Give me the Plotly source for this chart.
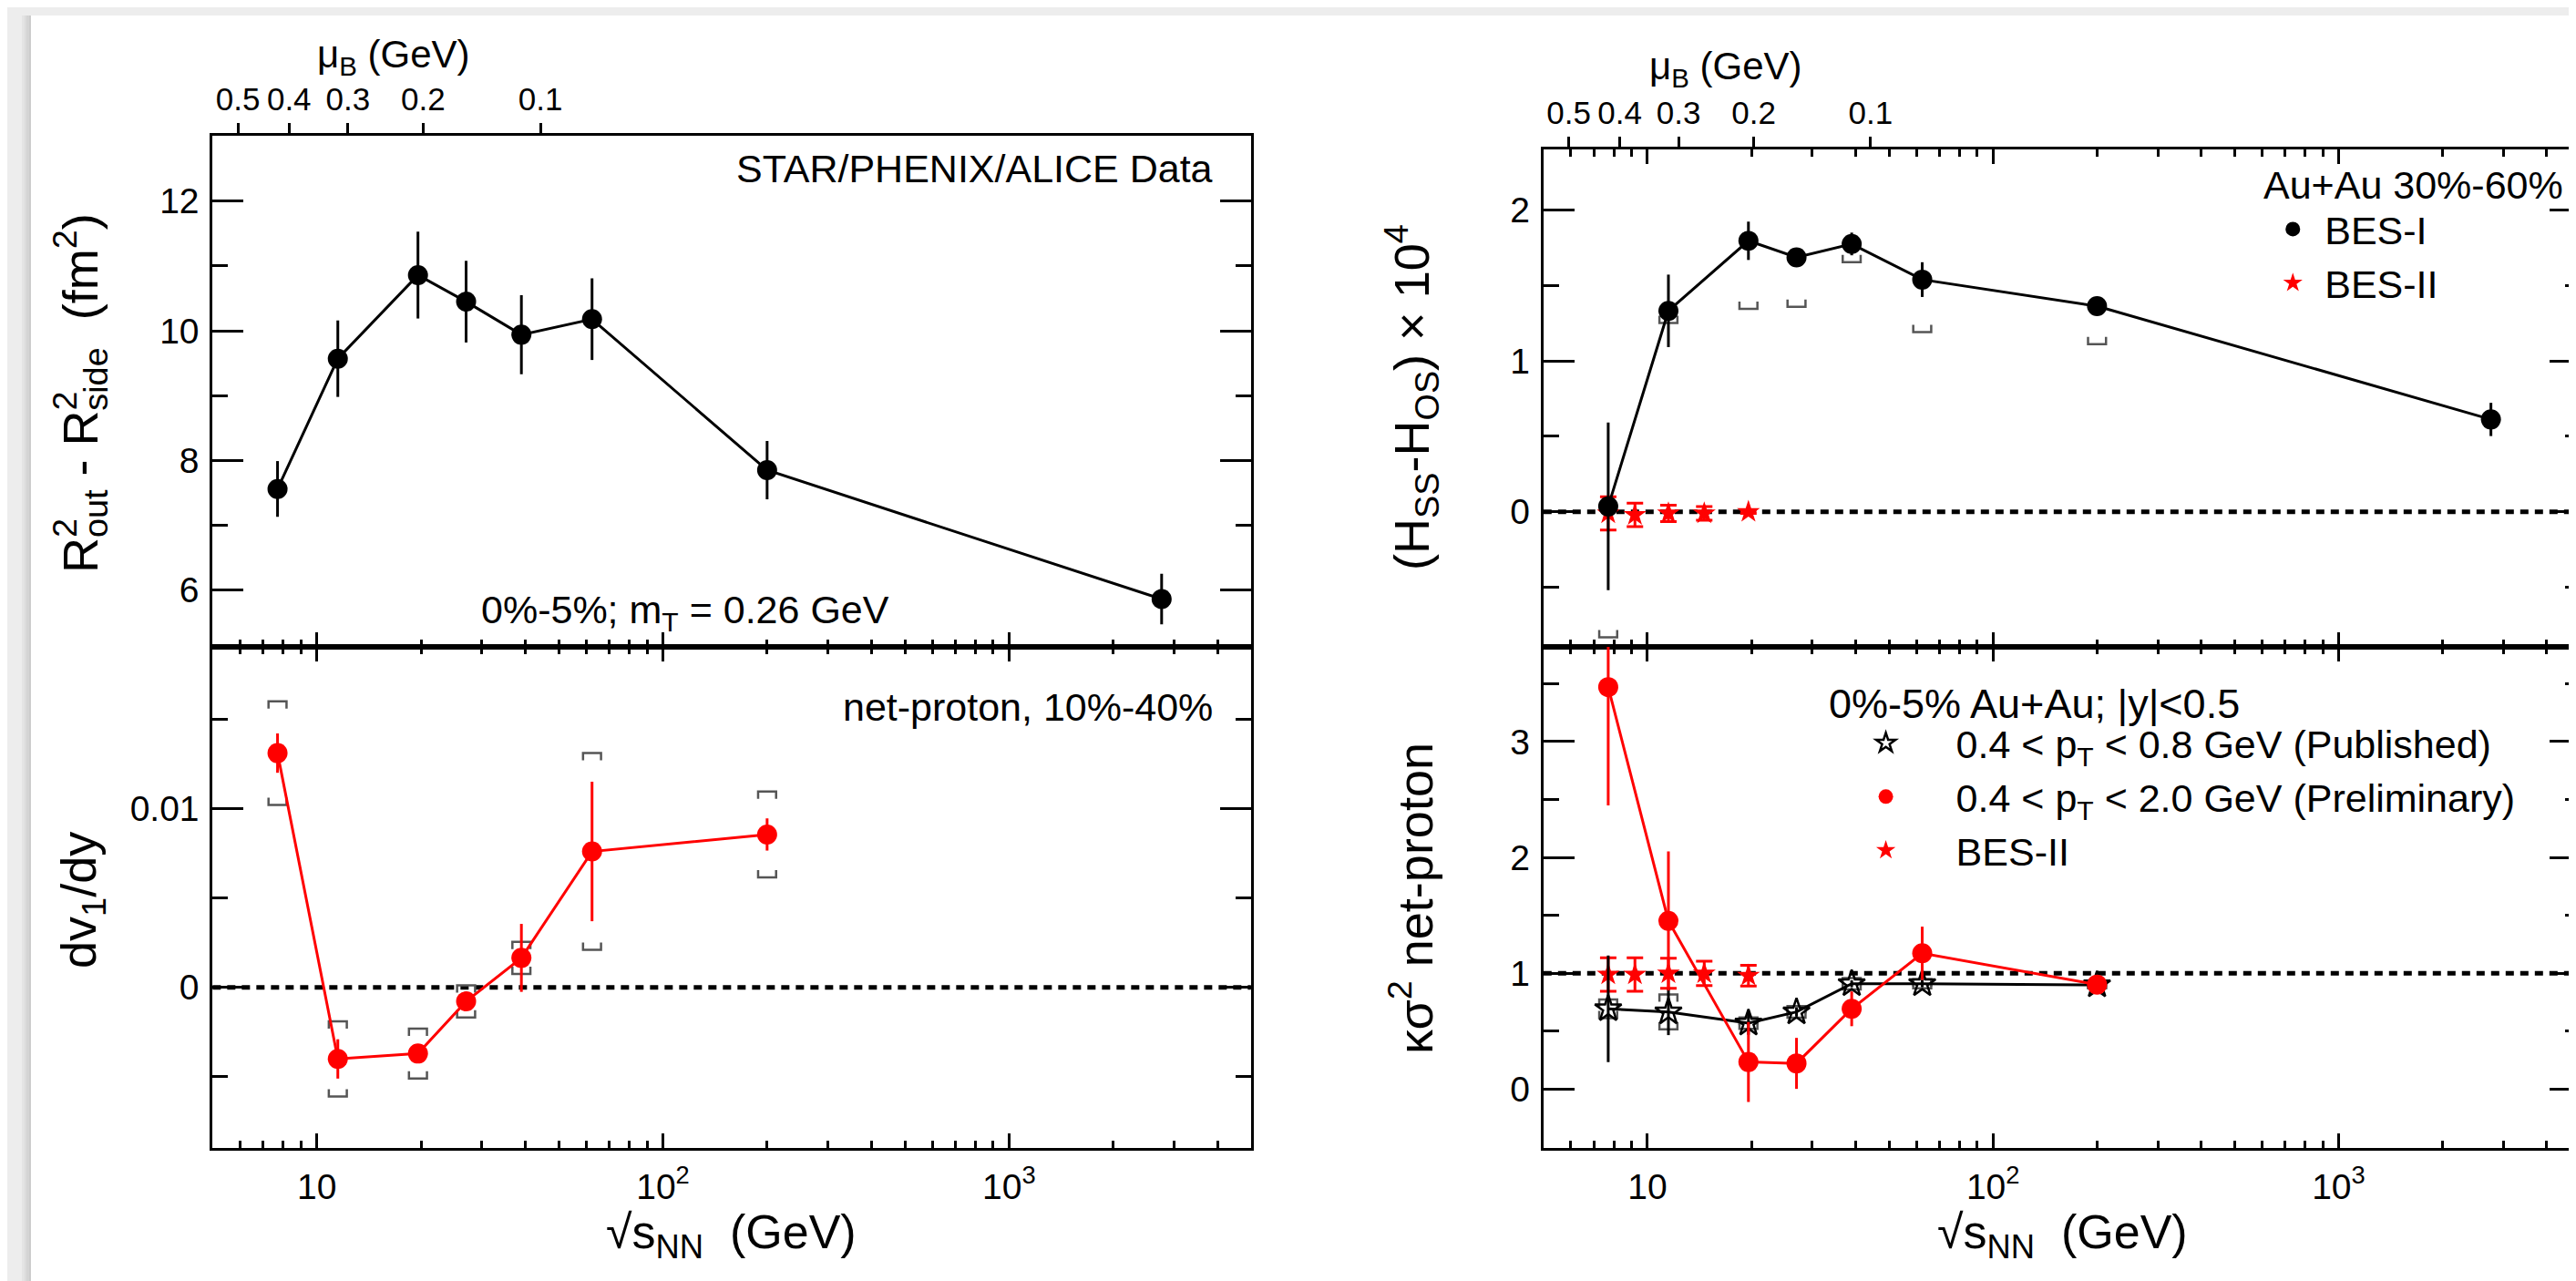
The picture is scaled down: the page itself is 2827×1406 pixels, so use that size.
import numpy as np
import plotly.graph_objects as go

# ---------------- data ----------------
# HBT: R_out^2 - R_side^2, 0-5%
e_hbt = [7.7, 11.5, 19.6, 27, 39, 62.4, 200, 2760]
hbt = [7.56, 9.57, 10.86, 10.45, 9.94, 10.18, 7.85, 5.86]
hbt_err = [0.43, 0.59, 0.67, 0.63, 0.61, 0.63, 0.45, 0.39]

# net-proton dv1/dy, 10-40%
e_dv1 = [7.7, 11.5, 19.6, 27, 39, 62.4, 200]
dv1 = [0.0131, -0.0040, -0.0037, -0.00078, 0.00165, 0.0076, 0.00855]
dv1_err = [0.0011, 0.0011, 0.0004, 0.0004, 0.0019, 0.0039, 0.0009]
dv1_sys = [0.0029, 0.0021, 0.0014, 0.0009, 0.0009, 0.0055, 0.0024]

# (H_SS - H_OS) x 10^4, 30-60%
e_bes1 = [7.7, 11.5, 19.6, 27, 39, 62.4, 200, 2760]
h_bes1 = [0.036, 1.331, 1.795, 1.685, 1.774, 1.538, 1.362, 0.612]
h_bes1_err = [0.555, 0.24, 0.127, 0.04, 0.075, 0.115, 0.05, 0.11]
h_bes1_sys_low = [0.866, 0.081, 0.451, 0.327, 0.121, 0.348, 0.252, None]
e_bes2 = [7.7, 9.2, 11.5, 14.6, 19.6]
h_bes2 = [-0.01, -0.02, -0.01, -0.01, 0.0]
h_bes2_err = [0.11, 0.077, 0.054, 0.045, 0.01]

# kappa sigma^2 net-proton, 0-5%
e_kap = [7.7, 11.5, 19.6, 27, 39, 62.4, 200]
kap_prelim = [3.47, 1.452, 0.235, 0.223, 0.694, 1.173, 0.903]
kap_prelim_err = [1.02, 0.60, 0.345, 0.22, 0.15, 0.23, 0.05]
kap_pub = [0.694, 0.667, 0.57, 0.667, 0.91, 0.91, 0.90]
kap_pub_err = [0.46, 0.20, 0.10, 0.04, 0.03, 0.03, 0.03]
kap_pub_sys = [0.08, 0.15, 0.05, 0.05, 0.05, 0.04, 0.03]
e_kap2 = [7.7, 9.2, 11.5, 14.6, 19.6]
kap_bes2 = [0.99, 0.99, 1.0, 1.0, 0.98]
kap_bes2_err = [0.145, 0.145, 0.13, 0.105, 0.09]

# axis ticks
x_major = [10, 100, 1000]
x_major_text = ["10", "10<sup>2</sup>", "10<sup>3</sup>"]
x_minor = [m * 10 ** e for e in range(0, 4) for m in range(2, 10)
           if 5 < m * 10 ** e < 5000 and m * 10 ** e not in x_major]
mu_b_vals = [0.5, 0.4, 0.3, 0.2, 0.1]
mu_b_text = ["0.5", "0.4", "0.3", "0.2", "0.1"]
hbt_major = [6, 8, 10, 12]
hbt_minor = [7, 9, 11]
dv1_major = [0, 0.01]
dv1_major_text = ["0", "0.01"]
dv1_minor = [-0.005, 0.005, 0.015]
h_major = [0, 1, 2]
h_minor = [-0.5, 0.5, 1.5]
k_major = [0, 1, 2, 3]
k_minor = [0.5, 1.5, 2.5, 3.5]
ref_zero = 0.0
ref_one = 1.0

# ---------------- geometry / style ----------------
W, H = 2827, 1406
FONT = "Liberation Sans, Arial, Helvetica, sans-serif"
LX = (225.5, 1365.8)
RX = (1687.0, 2825.5)
TOP_L = (141.0, 702.0)
TOP_R = (156.0, 702.0)
BOT = (702.0, 1252.0)
X_RANGE = [np.log10(5), np.log10(5000)]
Y_HBT = [5.123, 13.01]
Y_DV1 = [-0.00898, 0.01904]
Y_H = [-0.894, 2.40]
Y_K = [-0.507, 3.817]
GRAY = "#555555"
RED = "#ff0000"
MS = 22


def xdom(p):
    return [p[0] / W, p[1] / W]


def ydom(p):
    return [1 - p[1] / H, 1 - p[0] / H]


def per_px(py, rng):
    return (rng[1] - rng[0]) / (py[1] - py[0])


# sqrt(s_NN) corresponding to mu_B (chemical freeze-out parametrisation)
mu_b_pos = [(1.308 / m - 1.0) / 0.273 for m in mu_b_vals]


def brackets(x, ylev, leg, half_dec=0.026):
    xs, ys = [], []
    for xi, yi in zip(x, ylev):
        if yi is None:
            continue
        xl, xr = xi * 10 ** (-half_dec), xi * 10 ** half_dec
        xs += [xl, xl, xr, xr, None]
        ys += [yi + leg, yi, yi, yi + leg, None]
    return xs, ys


def bracket_trace(x, ylev, leg, xa, ya):
    bx, by = brackets(x, ylev, leg)
    return go.Scatter(x=bx, y=by, mode="lines", line=dict(color=GRAY, width=2.5),
                      xaxis=xa, yaxis=ya, showlegend=False, hoverinfo="skip")


fig = go.Figure()
LEG = 8.0  # bracket leg length in px

# ---- top left: HBT ----
fig.add_trace(go.Scatter(
    x=e_hbt, y=hbt, mode="lines+markers",
    line=dict(color="black", width=3),
    marker=dict(symbol="circle", size=MS, color="black"),
    error_y=dict(type="data", array=hbt_err, color="black", thickness=3, width=0),
    xaxis="x", yaxis="y", showlegend=False))

# ---- bottom left: dv1/dy ----
lg = LEG * per_px(BOT, Y_DV1)
fig.add_trace(bracket_trace(e_dv1, [v + s for v, s in zip(dv1, dv1_sys)], -lg, "x2", "y2"))
fig.add_trace(bracket_trace(e_dv1, [v - s for v, s in zip(dv1, dv1_sys)], lg, "x2", "y2"))
fig.add_trace(go.Scatter(
    x=e_dv1, y=dv1, mode="lines+markers",
    line=dict(color=RED, width=3),
    marker=dict(symbol="circle", size=MS, color=RED),
    error_y=dict(type="data", array=dv1_err, color=RED, thickness=3, width=0),
    xaxis="x2", yaxis="y2", showlegend=False))

# ---- top right: H_SS - H_OS ----
lg = LEG * per_px(TOP_R, Y_H)
fig.add_trace(bracket_trace(
    e_bes1, [None if s is None else v - s for v, s in zip(h_bes1, h_bes1_sys_low)], lg, "x3", "y3"))
fig.add_trace(go.Scatter(
    x=e_bes2, y=h_bes2, mode="markers", name="BES-II", legend="legend", legendrank=2,
    marker=dict(symbol="star", size=19, color=RED),
    error_y=dict(type="data", array=h_bes2_err, color=RED, thickness=3, width=9),
    xaxis="x3", yaxis="y3"))
fig.add_trace(go.Scatter(
    x=e_bes1, y=h_bes1, mode="lines", line=dict(color="black", width=3),
    xaxis="x3", yaxis="y3", showlegend=False))
fig.add_trace(go.Scatter(
    x=e_bes1, y=h_bes1, mode="markers", name="BES-I", legend="legend", legendrank=1,
    marker=dict(symbol="circle", size=MS, color="black"),
    error_y=dict(type="data", array=h_bes1_err, color="black", thickness=3, width=0),
    xaxis="x3", yaxis="y3"))

# ---- bottom right: kappa sigma^2 ----
lg = LEG * per_px(BOT, Y_K)
fig.add_trace(bracket_trace(e_kap, [v + s for v, s in zip(kap_pub, kap_pub_sys)], -lg, "x4", "y4"))
fig.add_trace(bracket_trace(e_kap, [v - s for v, s in zip(kap_pub, kap_pub_sys)], lg, "x4", "y4"))
fig.add_trace(go.Scatter(
    x=e_kap2, y=kap_bes2, mode="markers", name="BES-II", legend="legend2", legendrank=3,
    marker=dict(symbol="star", size=19, color=RED),
    error_y=dict(type="data", array=kap_bes2_err, color=RED, thickness=3, width=9),
    xaxis="x4", yaxis="y4"))
fig.add_trace(go.Scatter(
    x=e_kap, y=kap_pub, mode="lines", line=dict(color="black", width=3),
    xaxis="x4", yaxis="y4", showlegend=False))
fig.add_trace(go.Scatter(
    x=e_kap, y=kap_pub, mode="markers",
    name="0.4 < p<sub>T</sub> < 0.8 GeV (Published)", legend="legend2", legendrank=1,
    marker=dict(symbol="star-open", size=MS, color="black", line=dict(width=2.5, color="black")),
    error_y=dict(type="data", array=kap_pub_err, color="black", thickness=3, width=0),
    xaxis="x4", yaxis="y4"))
fig.add_trace(go.Scatter(
    x=e_kap, y=kap_prelim, mode="lines", line=dict(color=RED, width=3),
    xaxis="x4", yaxis="y4", showlegend=False))
fig.add_trace(go.Scatter(
    x=e_kap, y=kap_prelim, mode="markers",
    name="0.4 < p<sub>T</sub> < 2.0 GeV (Preliminary)", legend="legend2", legendrank=2,
    marker=dict(symbol="circle", size=MS, color=RED),
    error_y=dict(type="data", array=kap_prelim_err, color=RED, thickness=3, width=0),
    xaxis="x4", yaxis="y4"))

# placeholder traces so the mu_B axes are drawn
fig.add_trace(go.Scatter(x=[], y=[], xaxis="x5", yaxis="y", showlegend=False))
fig.add_trace(go.Scatter(x=[], y=[], xaxis="x6", yaxis="y3", showlegend=False))

# ---------------- axes ----------------
tickfont = dict(family=FONT, size=39, color="black")


def xaxis(dom, anchor, labels, mirror):
    return dict(
        type="log", range=X_RANGE, domain=xdom(dom), anchor=anchor,
        showline=True, linecolor="black", linewidth=3, mirror=mirror,
        ticks="inside", ticklen=16, tickwidth=2.5, tickcolor="black",
        tickvals=x_major, ticktext=x_major_text, showticklabels=labels,
        tickfont=tickfont, ticklabelstandoff=6,
        minor=dict(tickvals=x_minor, ticks="inside", ticklen=8, tickwidth=2.5, tickcolor="black"),
        showgrid=False, zeroline=False, fixedrange=True)


def yaxis(dom, anchor, rng, major, minor, text=None):
    d = dict(
        range=rng, domain=ydom(dom), anchor=anchor,
        showline=True, linecolor="black", linewidth=3, mirror="ticks",
        ticks="inside", ticklen=34, tickwidth=2.5, tickcolor="black",
        tickvals=major, tickfont=tickfont, ticklabelstandoff=4,
        minor=dict(tickvals=minor, ticks="inside", ticklen=17, tickwidth=2.5, tickcolor="black"),
        showgrid=False, zeroline=False, fixedrange=True)
    if text is not None:
        d["ticktext"] = text
    return d


def muaxis(over, anchor):
    return dict(
        type="log", range=X_RANGE, overlaying=over, anchor=anchor, side="top",
        showline=False, ticks="outside", ticklen=13, tickwidth=2.5, tickcolor="black",
        tickvals=mu_b_pos, ticktext=mu_b_text,
        tickfont=dict(family=FONT, size=35, color="black"), ticklabelstandoff=0,
        showgrid=False, zeroline=False, fixedrange=True)


fig.update_layout(
    xaxis=xaxis(LX, "y", False, True),
    yaxis=yaxis(TOP_L, "x", Y_HBT, hbt_major, hbt_minor),
    xaxis2=xaxis(LX, "y2", True, "ticks"),
    yaxis2=yaxis(BOT, "x2", Y_DV1, dv1_major, dv1_minor, dv1_major_text),
    xaxis3=xaxis(RX, "y3", False, "ticks"),
    yaxis3=yaxis(TOP_R, "x3", Y_H, h_major, h_minor),
    xaxis4=xaxis(RX, "y4", True, "ticks"),
    yaxis4=yaxis(BOT, "x4", Y_K, k_major, k_minor),
    xaxis5=muaxis("x", "y"),
    xaxis6=muaxis("x3", "y3"),
)

# ---------------- reference lines / background ----------------
shapes = []
shapes.append(dict(type="rect", xref="paper", yref="paper", x0=26 / W, x1=1, y0=0, y1=1 - 9 / H,
                   fillcolor="white", line=dict(width=0), layer="below"))
for i, c in enumerate(["#e4e4e4", "#dcdcdc", "#d4d4d4", "#cccccc"]):
    shapes.append(dict(type="rect", xref="paper", yref="paper",
                       x0=(16 + 2.5 * i) / W, x1=(18.5 + 2.5 * i) / W, y0=0, y1=1 - 9 / H,
                       fillcolor=c, line=dict(width=0), layer="below"))
for xr, yr, yv in [("x2", "y2", ref_zero), ("x3", "y3", ref_zero), ("x4", "y4", ref_one)]:
    shapes.append(dict(type="line", xref=xr + " domain", yref=yr, x0=0, x1=1, y0=yv, y1=yv,
                       line=dict(color="black", width=5, dash="9px,7px"), layer="below"))


# ---------------- text ----------------
def ann(text, x, y, size=43, xanchor="center", yanchor="middle", angle=0):
    return dict(text=text, x=x / W, y=1 - y / H, xref="paper", yref="paper",
                xanchor=xanchor, yanchor=yanchor, textangle=angle, showarrow=False,
                font=dict(family=FONT, size=size, color="black"))


STK = "<span style='letter-spacing:-0.56em'>2</span>"
xtitle = "\u221as<sub>NN</sub>  (GeV)"
YT = 54
annotations = [
    ann("\u03bc<sub>B</sub> (GeV)", 424, 55, size=42),
    ann("\u03bc<sub>B</sub> (GeV)", 1887, 67, size=42),
    ann("STAR/PHENIX/ALICE Data", 1326, 177, xanchor="right"),
    ann("0%-5%; m<sub>T</sub> = 0.26 GeV", 745, 664),
    ann("net-proton, 10%-40%", 1326, 768, xanchor="right"),
    ann("Au+Au 30%-60%", 2809, 195, xanchor="right"),
    ann("0%-5% Au+Au; |y|<0.5", 1998, 764, size=45, xanchor="left"),
    ann("R<sup>" + STK + "</sup><sub>out</sub> - R<sup>" + STK + "</sup><sub>side</sub>  (fm<sup>2</sup>)",
        80, 423, size=YT, angle=-90),
    ann("dv<sub>1</sub>/dy", 82, 980, size=YT, angle=-90),
    ann("(H<sub>SS</sub>-H<sub>OS</sub>) \u00d7 10<sup>4</sup>", 1542, 428, size=YT, angle=-90),
    ann("\u03ba\u03c3<sup>2</sup> net-proton", 1542, 978, size=YT, angle=-90),
    ann(xtitle, 795, 1348, size=52),
    ann(xtitle, 2257, 1348, size=52),
]

legfont = dict(family=FONT, size=43, color="black")
fig.update_layout(
    width=W, height=H, autosize=False,
    margin=dict(l=0, r=0, t=0, b=0, pad=0),
    paper_bgcolor="#ededed", plot_bgcolor="rgba(0,0,0,0)",
    font=dict(family=FONT, color="black"),
    shapes=shapes, annotations=annotations,
    legend=dict(x=(2510 - 35) / W, y=1 - 209 / H, xanchor="left", yanchor="top",
                bgcolor="rgba(0,0,0,0)", font=legfont, itemsizing="trace",
                itemwidth=60, tracegroupgap=0),
    legend2=dict(x=(2063 - 77) / W, y=1 - 773 / H, xanchor="left", yanchor="top",
                 bgcolor="rgba(0,0,0,0)", font=legfont, itemsizing="trace",
                 itemwidth=144, tracegroupgap=0),
    hovermode=False,
)

fig.write_html("out.html")
